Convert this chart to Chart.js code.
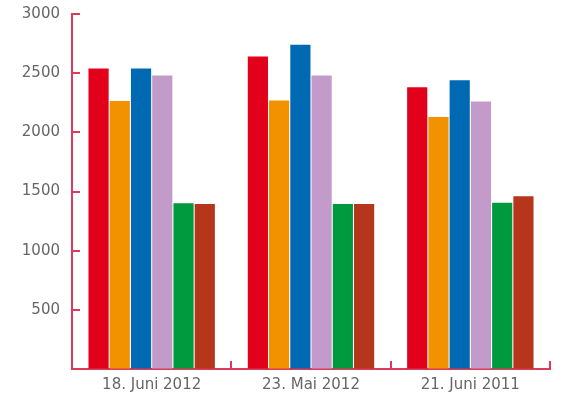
<!DOCTYPE html>
<html>
<head>
<meta charset="utf-8">
<script src="https://cdn.jsdelivr.net/npm/chart.js@4"></script>
<style>
  html, body { margin: 0; padding: 0; background: #fff; }
  #wrap { width: 565px; height: 400px; }
</style>
</head>
<body>
<div id="wrap"><canvas id="chart"></canvas></div>
<script>
// data
const categories = ["18. Juni 2012", "23. Mai 2012", "21. Juni 2011"];
const redValues = [2540, 2640, 2380];
const orangeValues = [2265, 2270, 2130];
const blueValues = [2540, 2740, 2440];
const lilacValues = [2480, 2480, 2260];
const greenValues = [1400, 1395, 1405];
const brownValues = [1395, 1395, 1460];
const yTicks = [500, 1000, 1500, 2000, 2500, 3000];

const axisColor = "#dc3a58";
const textColor = "#666666";

// small inward ticks on both axes
const inwardTicks = {
  id: "inwardTicks",
  afterDraw(chart) {
    const ctx = chart.ctx;
    const x = chart.scales.x;
    const y = chart.scales.y;
    ctx.save();
    ctx.strokeStyle = axisColor;
    ctx.lineWidth = 2;
    ctx.beginPath();
    yTicks.forEach((v) => {
      const py = Math.round(y.getPixelForValue(v));
      ctx.moveTo(x.left, py);
      ctx.lineTo(x.left + 8, py);
    });
    for (let i = 0; i < categories.length; i++) {
      const px = Math.round(x.getPixelForValue(i) + (x.getPixelForValue(1) - x.getPixelForValue(0)) / 2);
      ctx.moveTo(px, y.bottom);
      ctx.lineTo(px, y.bottom - 8);
    }
    ctx.stroke();
    ctx.restore();
  },
};

const seriesColors = ["#e2001a", "#f39200", "#0069b4", "#c39bcb", "#009a3e", "#b5361b"];
const seriesValues = [redValues, orangeValues, blueValues, lilacValues, greenValues, brownValues];

new Chart(document.getElementById("chart"), {
  type: "bar",
  data: {
    labels: categories,
    datasets: seriesValues.map((vals, i) => ({
      data: vals,
      backgroundColor: seriesColors[i],
      categoryPercentage: 0.8,
      barPercentage: 0.95,
    })),
  },
  options: {
    responsive: true,
    maintainAspectRatio: false,
    animation: false,
    layout: { padding: { top: 14, right: 15, left: 0, bottom: 0 } },
    plugins: { legend: { display: false }, tooltip: { enabled: false } },
    scales: {
      x: {
        grid: { display: true, drawOnChartArea: false, drawTicks: false, color: "rgba(0,0,0,0)" },
        border: { color: axisColor, width: 2 },
        ticks: { color: textColor, font: { family: "DejaVu Sans", size: 15 }, padding: 7 },
        afterFit(scale) { scale.height = 31; },
      },
      y: {
        min: 0,
        max: 3000,
        grid: { display: true, drawOnChartArea: false, drawTicks: false, color: "rgba(0,0,0,0)" },
        border: { color: axisColor, width: 2 },
        ticks: {
          stepSize: 500,
          color: textColor,
          font: { family: "DejaVu Sans", size: 15 },
          padding: 12,
          callback: (v) => (v === 0 ? "" : v),
        },
        afterFit(scale) {
          scale.width = 72;
          scale.paddingTop = 0;
        },
      },
    },
  },
  plugins: [inwardTicks],
});
</script>
</body>
</html>
